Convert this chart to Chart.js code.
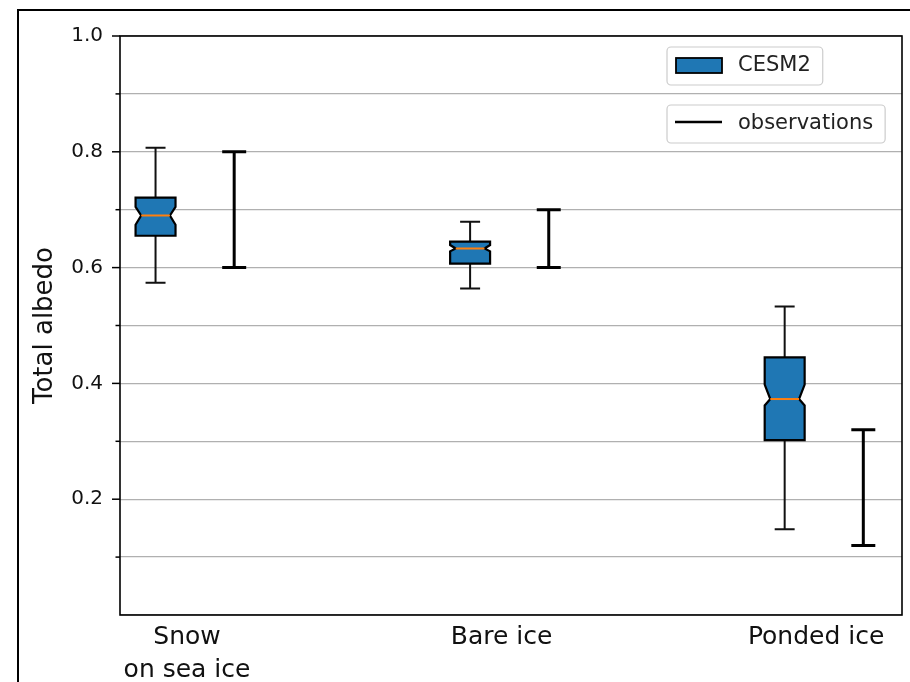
<!DOCTYPE html>
<html>
<head>
<meta charset="utf-8">
<script src="https://cdn.jsdelivr.net/npm/chart.js@4.4.1/dist/chart.umd.min.js"></script>
<style>
  body { margin: 0; background: #fff; }
  #wrap { width: 910px; height: 682px; }
</style>
</head>
<body>
<div id="wrap"><canvas id="albedoChart" width="910" height="682"></canvas></div>
<script>
let categories = [['Snow', 'on sea ice'], 'Bare ice', 'Ponded ice']
let positions = [1, 2, 3]

// CESM2 box statistics
let cesmLow = [0.574, 0.564, 0.148]
let cesmQ1 = [0.655, 0.607, 0.302]
let cesmMedian = [0.690, 0.633, 0.373]
let cesmQ3 = [0.721, 0.645, 0.445]
let cesmHigh = [0.807, 0.679, 0.533]
let cesmNotchLow = [0.674, 0.628, 0.362]
let cesmNotchHigh = [0.705, 0.639, 0.398]

// observed range
let obsLow = [0.60, 0.60, 0.12]
let obsHigh = [0.80, 0.70, 0.32]

let yTicks = [0.2, 0.4, 0.6, 0.8, 1.0]

const FONT = `'DejaVu Sans', sans-serif`
const BLUE = `#1f77b4`
const boxShift = -0.1
const obsShift = 0.15
const boxWidth = 0.127

const boxPlugin = {
    id: `boxes`,
    beforeDraw(chart) {
        const ctx = chart.ctx
        ctx.save()
        ctx.fillStyle = `#fff`
        ctx.fillRect(0, 0, chart.width, chart.height)
        // outer figure frame
        ctx.strokeStyle = `#000`
        ctx.lineWidth = 2
        ctx.beginPath()
        ctx.moveTo(18, chart.height + 2)
        ctx.lineTo(18, 10)
        ctx.lineTo(chart.width + 2, 10)
        ctx.stroke()
        ctx.restore()
    },
    afterDatasetsDraw(chart) {
        const {ctx, chartArea: a, scales: {x, y}} = chart
        ctx.save()
        ctx.lineJoin = `miter`

        const hw = (x.getPixelForValue(boxWidth) - x.getPixelForValue(0)) / 2
        const dep = hw * 0.28

        positions.forEach((p, i) => {
            // CESM2 notched box
            const cx = x.getPixelForValue(p + boxShift)
            const q1 = y.getPixelForValue(cesmQ1[i])
            const q3 = y.getPixelForValue(cesmQ3[i])
            const md = y.getPixelForValue(cesmMedian[i])
            const nl = y.getPixelForValue(cesmNotchLow[i])
            const nh = y.getPixelForValue(cesmNotchHigh[i])
            const lo = y.getPixelForValue(cesmLow[i])
            const hi = y.getPixelForValue(cesmHigh[i])

            ctx.strokeStyle = `#111`
            ctx.lineWidth = 2
            ctx.beginPath()
            ctx.moveTo(cx, q3); ctx.lineTo(cx, hi)
            ctx.moveTo(cx - hw / 2, hi); ctx.lineTo(cx + hw / 2, hi)
            ctx.moveTo(cx, q1); ctx.lineTo(cx, lo)
            ctx.moveTo(cx - hw / 2, lo); ctx.lineTo(cx + hw / 2, lo)
            ctx.stroke()

            ctx.beginPath()
            ctx.moveTo(cx - hw, q1)
            ctx.lineTo(cx - hw, nl)
            ctx.lineTo(cx - hw + dep, md)
            ctx.lineTo(cx - hw, nh)
            ctx.lineTo(cx - hw, q3)
            ctx.lineTo(cx + hw, q3)
            ctx.lineTo(cx + hw, nh)
            ctx.lineTo(cx + hw - dep, md)
            ctx.lineTo(cx + hw, nl)
            ctx.lineTo(cx + hw, q1)
            ctx.closePath()
            ctx.fillStyle = BLUE
            ctx.fill()
            ctx.lineWidth = 2.2
            ctx.strokeStyle = `#000`
            ctx.stroke()

            ctx.strokeStyle = `#ff7f0e`
            ctx.lineWidth = 2
            ctx.beginPath()
            ctx.moveTo(cx - hw + dep, md)
            ctx.lineTo(cx + hw - dep, md)
            ctx.stroke()

            // observation range
            const ox = x.getPixelForValue(p + obsShift)
            const ol = y.getPixelForValue(obsLow[i])
            const oh = y.getPixelForValue(obsHigh[i])
            ctx.strokeStyle = `#000`
            ctx.lineWidth = 3
            ctx.beginPath()
            ctx.moveTo(ox, ol); ctx.lineTo(ox, oh)
            ctx.moveTo(ox - 12, oh); ctx.lineTo(ox + 12, oh)
            ctx.moveTo(ox - 12, ol); ctx.lineTo(ox + 12, ol)
            ctx.stroke()
        })

        // plot frame
        ctx.strokeStyle = `#000`
        ctx.lineWidth = 1.6
        ctx.strokeRect(a.left, a.top, a.right - a.left, a.bottom - a.top)

        // y tick marks, major and minor
        ctx.lineWidth = 1.5
        y.ticks.forEach((t) => {
            if (t.value <= 0) return
            const py = y.getPixelForValue(t.value)
            const len = yTicks.some((v) => Math.abs(v - t.value) < 1e-6) ? 8 : 4.5
            ctx.beginPath()
            ctx.moveTo(a.left - len, py)
            ctx.lineTo(a.left, py)
            ctx.stroke()
        })

        // two separate legend frames
        ctx.font = `21px ${FONT}`
        ctx.textBaseline = `middle`
        const legend = (top, label, drawKey) => {
            const left = 667
            const w = 738 + ctx.measureText(label).width + 12 - left
            ctx.beginPath()
            ctx.roundRect(left, top, w, 38, 4)
            ctx.fillStyle = `rgba(255,255,255,0.85)`
            ctx.fill()
            ctx.strokeStyle = `#cccccc`
            ctx.lineWidth = 1.2
            ctx.stroke()
            drawKey(top)
            ctx.fillStyle = `#222`
            ctx.fillText(label, 738, top + 19)
        }
        legend(47, `CESM2`, (top) => {
            ctx.fillStyle = BLUE
            ctx.fillRect(676, top + 11, 46, 15)
            ctx.strokeStyle = `#000`
            ctx.lineWidth = 1.8
            ctx.strokeRect(676, top + 11, 46, 15)
        })
        legend(105, `observations`, (top) => {
            ctx.strokeStyle = `#000`
            ctx.lineWidth = 2.5
            ctx.beginPath()
            ctx.moveTo(675, top + 17)
            ctx.lineTo(722, top + 17)
            ctx.stroke()
        })
        ctx.restore()
    }
}

function albedoChart() {
    const ctx = document.getElementById(`albedoChart`)

    new Chart(ctx, {
        type: `scatter`,
        data: {
            datasets: [{
                label: `CESM2`,
                data: positions.map((p, i) => ({x: p + boxShift, y: cesmMedian[i]})),
                pointRadius: 0
            }, {
                label: `observations`,
                data: positions.map((p, i) => ({x: p + obsShift, y: (obsLow[i] + obsHigh[i]) / 2})),
                pointRadius: 0
            }]
        },
        options: {
            responsive: false,
            animation: false,
            layout: {padding: {left: 0, top: 36, right: 8, bottom: 0}},
            plugins: {
                legend: {display: false},
                tooltip: {enabled: false}
            },
            scales: {
                x: {
                    type: `linear`,
                    min: 0.787,
                    max: 3.273,
                    afterBuildTicks: (s) => { s.ticks = positions.map((v) => ({value: v})) },
                    afterFit: (s) => { s.height = 67 },
                    grid: {display: false, drawTicks: false},
                    border: {display: false},
                    ticks: {
                        padding: 6,
                        color: `#111`,
                        font: {family: FONT, size: 25, lineHeight: 1.32},
                        callback: (v) => categories[positions.indexOf(v)]
                    }
                },
                y: {
                    min: 0,
                    max: 1,
                    afterFit: (s) => { s.width = 120 },
                    grid: {color: `#b0b0b0`, lineWidth: 1.3, drawTicks: false},
                    border: {display: false},
                    ticks: {
                        stepSize: 0.1,
                        padding: 17,
                        color: `#111`,
                        font: {family: FONT, size: 20},
                        callback: (v) => yTicks.some((t) => Math.abs(t - v) < 1e-6) ? v.toFixed(1) : ``
                    },
                    title: {
                        display: true,
                        text: `Total albedo`,
                        color: `#111`,
                        font: {family: FONT, size: 26, lineHeight: 1.2},
                        padding: {top: 30, bottom: 0}
                    }
                }
            }
        },
        plugins: [boxPlugin]
    })
}

albedoChart()
</script>
</body>
</html>
